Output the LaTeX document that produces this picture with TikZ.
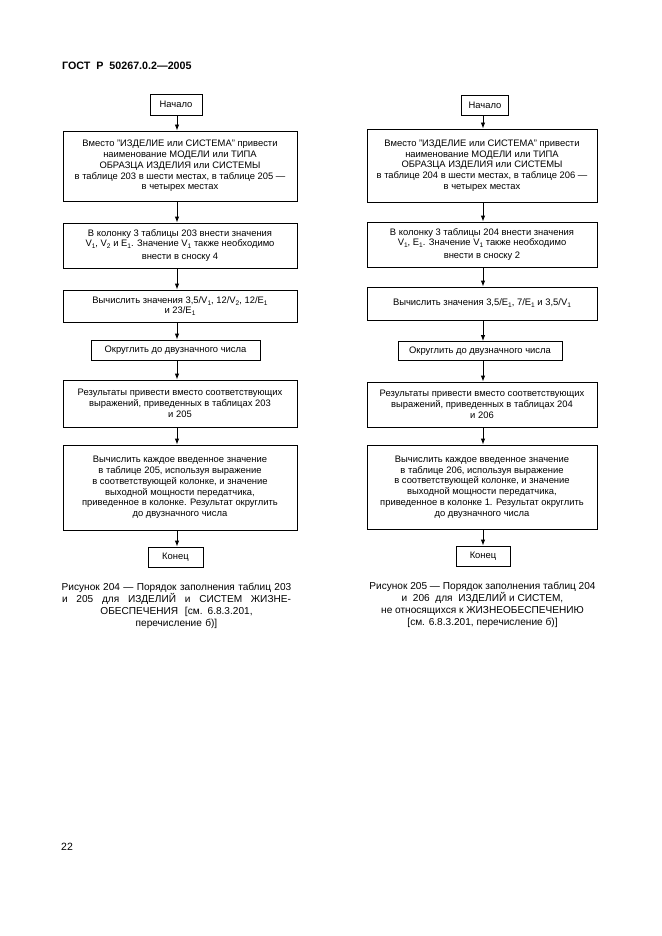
\documentclass[tikz,border=0pt]{standalone}
\usepackage{fontspec}
\setmainfont{Liberation Sans}
\usetikzlibrary{arrows.meta}
\newcommand\mysub[1]{\raisebox{-0.4ex}{\fontsize{6.6}{7}\selectfont #1}}
\begin{document}
\begin{tikzpicture}[x=1pt,y=-1pt,
  box/.style={draw, line width=0.9pt, inner sep=0pt, align=center,
    font=\fontsize{9.4}{10.8}\selectfont},
  arr/.style={line width=0.9pt, -{Latex[length=6pt,width=4.5pt]}},
  figcap/.style={font=\fontsize{10.1}{12}\selectfont, align=center, inner sep=0pt}]
\useasboundingbox (0,0) rectangle (661,936);
\fill[white] (0,0) rectangle (661,936);

\node[anchor=base west, inner sep=0pt, font=\bfseries\fontsize{10.7}{11}\selectfont] (hdr) at (62,69.5) {ГОСТ\ \ Р\ \ 50267.0.2—2005};
\node[anchor=base west, inner sep=0pt, font=\fontsize{10.5}{12}\selectfont] (pg) at (61,850) {22};

% left column
\coordinate (axL) at (177,0);
\node[box, minimum width=52pt, minimum height=21pt] (l1) at (176,104.5) {Начало};
\node[box, minimum width=234pt, minimum height=70pt] (l2) at (180,166) {Вместо "ИЗДЕЛИЕ или СИСТЕМА" привести\\ наименование МОДЕЛИ или ТИПА\\ ОБРАЗЦА ИЗДЕЛИЯ или СИСТЕМЫ\\ в таблице 203 в шести местах, в таблице 205 —\\ в четырех местах};
\node[box, minimum width=234pt, minimum height=45pt] (l3) at (180,245.5) {В колонку 3 таблицы 203 внести значения\\ V\mysub{1}, V\mysub{2} и E\mysub{1}. Значение V\mysub{1} также необходимо\\[2pt] внести в сноску 4};
\node[box, minimum width=234pt, minimum height=32pt] (l4) at (180,306) {Вычислить значения 3,5/V\mysub{1}, 12/V\mysub{2}, 12/E\mysub{1}\\ и 23/E\mysub{1}};
\node[box, minimum width=169pt, minimum height=20pt] (l5) at (175.5,350) {Округлить до двузначного числа};
\node[box, minimum width=234pt, minimum height=47pt] (l6) at (180,403.5) {Результаты привести вместо соответствующих\\ выражений, приведенных в таблицах 203\\ и 205};
\node[box, minimum width=234pt, minimum height=85pt] (l7) at (180,487.5) {Вычислить каждое введенное значение\\ в таблице 205, используя выражение\\ в соответствующей колонке, и значение\\ выходной мощности передатчика,\\ приведенное в колонке. Результат округлить\\ до двузначного числа};
\node[box, minimum width=55pt, minimum height=20pt] (l8) at (175.5,557) {Конец};

\foreach \a/\b in {l1/l2,l2/l3,l3/l4,l4/l5,l5/l6,l6/l7,l7/l8}
  \draw[arr] (\a.south -| axL) -- (\b.north -| axL);

\node[figcap, text width=240pt, anchor=north] (lcap) at (176.5,583) {Рисунок 204 — Порядок заполнения таблиц 203\\ \makebox[229pt][s]{и\hfill 205\hfill для\hfill ИЗДЕЛИЙ\hfill и\hfill СИСТЕМ\hfill ЖИЗНЕ-}\\ ОБЕСПЕЧЕНИЯ\ \ {[}см. 6.8.3.201,\\ перечисление б){]}};

% right column
\coordinate (axR) at (483,0);
\node[box, minimum width=47pt, minimum height=20pt] (r1) at (485,105.5) {Начало};
\node[box, minimum width=230pt, minimum height=73pt] (r2) at (482,165.5) {Вместо "ИЗДЕЛИЕ или СИСТЕМА" привести\\ наименование МОДЕЛИ или ТИПА\\ ОБРАЗЦА ИЗДЕЛИЯ или СИСТЕМЫ\\ в таблице 204 в шести местах, в таблице 206 —\\ в четырех местах};
\node[box, minimum width=230pt, minimum height=45pt] (r3) at (482,244.5) {В колонку 3 таблицы 204 внести значения\\ V\mysub{1}, E\mysub{1}. Значение V\mysub{1} также необходимо\\[2pt] внести в сноску 2};
\node[box, minimum width=230pt, minimum height=33pt] (r4) at (482,303.5) {Вычислить значения 3,5/E\mysub{1}, 7/E\mysub{1} и 3,5/V\mysub{1}};
\node[box, minimum width=164pt, minimum height=19pt] (r5) at (480,351) {Округлить до двузначного числа};
\node[box, minimum width=230pt, minimum height=45pt] (r6) at (482,404.5) {Результаты привести вместо соответствующих\\ выражений, приведенных в таблицах 204\\ и 206};
\node[box, minimum width=230pt, minimum height=84pt] (r7) at (482,487) {Вычислить каждое введенное значение\\ в таблице 206, используя выражение\\ в соответствующей колонке, и значение\\ выходной мощности передатчика,\\ приведенное в колонке 1. Результат округлить\\ до двузначного числа};
\node[box, minimum width=54pt, minimum height=20pt] (r8) at (483,556) {Конец};

\foreach \a/\b in {r1/r2,r2/r3,r3/r4,r4/r5,r5/r6,r6/r7,r7/r8}
  \draw[arr] (\a.south -| axR) -- (\b.north -| axR);

\node[figcap, anchor=north] (rcap) at (482.5,582) {Рисунок 205 — Порядок заполнения таблиц 204\\ и\ \ 206\ \ для\ \ ИЗДЕЛИЙ и СИСТЕМ,\\ не относящихся к ЖИЗНЕОБЕСПЕЧЕНИЮ\\ {[}см. 6.8.3.201, перечисление б){]}};
\end{tikzpicture}
\end{document}
